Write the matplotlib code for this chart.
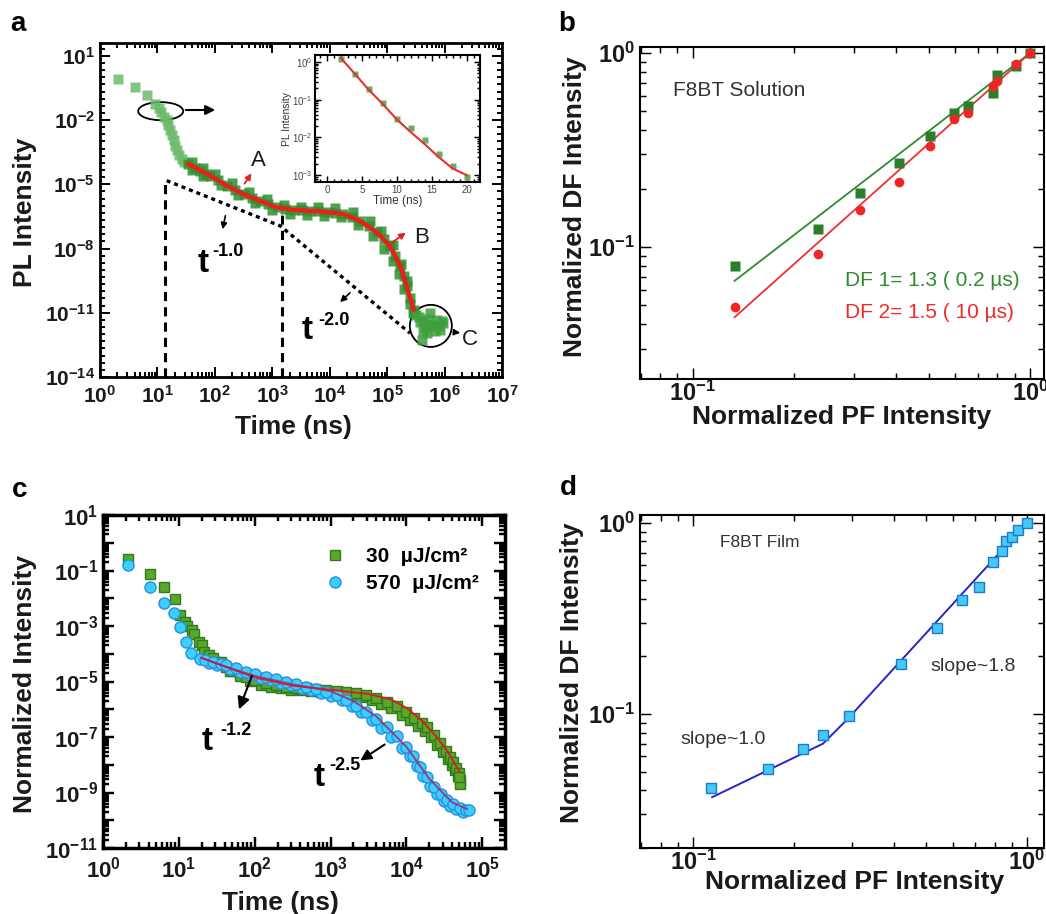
import numpy as np
import matplotlib
matplotlib.use('Agg')
import matplotlib.pyplot as plt
from matplotlib.patches import Ellipse
from matplotlib.ticker import (LogLocator, FixedLocator, FuncFormatter,
                               NullFormatter, MultipleLocator)

plt.rcParams['font.family'] = ['Liberation Sans', 'DejaVu Sans']
plt.rcParams['mathtext.fontset'] = 'custom'
plt.rcParams['mathtext.rm'] = 'Liberation Sans'
plt.rcParams['mathtext.bf'] = 'Liberation Sans:bold'
plt.rcParams['mathtext.it'] = 'Liberation Sans:italic'

# ---------------- data ----------------
# panel a: PL decay, values given as powers of ten (log10 t, log10 I)
a_early_logt = [0.31, 0.61, 0.81, 0.96, 1.02, 1.07, 1.12, 1.16, 1.19, 1.22, 1.25,
                1.28, 1.31, 1.34, 1.38, 1.42, 1.47]
a_early_logI = [-0.06, -0.45, -0.84, -1.23, -1.45, -1.62, -1.85, -2.01, -2.25, -2.48,
                -2.72, -2.95, -3.20, -3.42, -3.62, -3.81, -3.95]
a_band_logt = [1.54, 1.65, 1.75, 1.85, 1.92, 2.05, 2.21, 2.35, 2.50, 2.65, 2.79, 2.93,
               3.08, 3.22, 3.37, 3.51, 3.66, 3.80, 3.95, 4.10, 4.24, 4.38, 4.53, 4.68,
               4.82, 4.94, 5.05, 5.14, 5.23, 5.29, 5.34, 5.40, 5.46]
a_band_logI = [-4.05, -4.22, -4.38, -4.50, -4.60, -4.82, -5.07, -5.27, -5.46, -5.62,
               -5.77, -5.93, -6.08, -6.15, -6.19, -6.22, -6.24, -6.26, -6.29, -6.33,
               -6.39, -6.52, -6.71, -6.95, -7.25, -7.55, -7.88, -8.33, -8.82, -9.30,
               -9.76, -10.30, -10.85]
a_upper_logt = [1.60, 1.80, 2.00, 2.30, 2.60, 2.90, 3.20, 3.50, 3.80, 4.10, 4.40, 4.70,
                4.90, 5.10, 5.25, 5.35]
a_upper_logI = [-3.95, -4.22, -4.50, -4.95, -5.35, -5.68, -5.95, -6.05, -6.07, -6.12,
                -6.30, -6.72, -7.20, -7.85, -8.70, -9.50]
a_lower_logt = [1.60, 1.80, 2.10, 2.40, 2.70, 3.00, 3.30, 3.60, 3.90, 4.20, 4.50, 4.75,
                4.95, 5.10, 5.20, 5.30, 5.40, 5.45]
a_lower_logI = [-4.32, -4.62, -5.05, -5.52, -5.88, -6.20, -6.38, -6.42, -6.46, -6.55,
                -6.90, -7.40, -8.00, -8.60, -9.20, -9.90, -10.60, -11.00]
a_tail_logt = [5.50, 5.55, 5.58, 5.60, 5.62, 5.63, 5.66, 5.69, 5.70, 5.72, 5.75, 5.78,
               5.81, 5.84, 5.87, 5.90, 5.92, 5.95, 5.98]
a_tail_logI = [-11.10, -11.20, -11.45, -12.26, -11.85, -11.40, -11.70, -11.95, -11.55,
               -11.30, -11.00, -11.60, -11.56, -11.85, -11.32, -11.60, -11.79, -11.40,
               -11.48]
a_fit_logt = [1.54, 1.92, 2.21, 2.50, 2.79, 3.08, 3.37, 3.66, 3.95, 4.24, 4.53, 4.82,
              5.05, 5.23, 5.34, 5.46]
a_fit_logI = [-4.05, -4.60, -5.07, -5.46, -5.77, -6.08, -6.19, -6.24, -6.29, -6.39,
              -6.71, -7.25, -7.88, -8.82, -9.76, -10.85]
# power-law guide (t^-1.0 then t^-2.0) and the two dashed drop lines
guide_t = [14.5, 1370, 2.5e5]
guide_I = [1.48e-5, 1.15e-7, 1.12e-12]
drop_t = [13.5, 1460]
drop_top = [1.48e-5, 4.1e-7]

# inset of panel a (linear time, ns)
ins_t = [2, 4, 6, 8, 10, 12, 14, 16, 18, 20]
ins_I = [1.16, 0.47, 0.19, 0.083, 0.030, 0.018, 0.0087, 0.0037, 0.0018, 0.00089]
ins_fit_I = [1.26, 0.48, 0.18, 0.076, 0.030, 0.0138, 0.0066, 0.0030, 0.0015, 0.0010]

# panel b: F8BT solution
b_pf = [0.133, 0.235, 0.313, 0.41, 0.505, 0.595, 0.655, 0.776, 0.80, 0.91, 1.0]
b_df1 = [0.080, 0.124, 0.19, 0.271, 0.373, 0.49, 0.533, 0.62, 0.77, 0.86, 1.0]
b_df2 = [0.049, 0.092, 0.155, 0.217, 0.332, 0.457, 0.49, 0.68, 0.72, 0.88, 1.0]
b_fit_pf = [0.133, 1.0]
b_fit_df1 = [0.067, 1.0]
b_fit_df2 = [0.0435, 1.0]

# panel c: two fluences, powers of ten
c_low_logt = [0.33, 0.625, 0.80, 0.947, 1.02, 1.08, 1.11, 1.17, 1.20, 1.26, 1.30, 1.33,
              1.40, 1.45, 1.55, 1.62, 1.72, 1.88, 2.00, 2.15, 2.28, 2.41, 2.55, 2.68,
              2.80, 2.94, 3.08, 3.21, 3.34, 3.47, 3.60, 3.74, 3.87, 4.00, 4.10, 4.20,
              4.27, 4.36, 4.44, 4.52, 4.58, 4.62, 4.66, 4.69, 4.71, 4.71, 4.70]
c_low_logI = [-0.60, -1.13, -1.58, -2.01, -2.60, -2.85, -3.00, -3.15, -3.30, -3.57,
              -3.70, -3.93, -4.05, -4.15, -4.30, -4.47, -4.62, -4.83, -4.95, -5.07,
              -5.13, -5.19, -5.22, -5.25, -5.28, -5.31, -5.34, -5.37, -5.42, -5.49,
              -5.58, -5.73, -5.88, -6.09, -6.30, -6.50, -6.63, -6.92, -7.23, -7.50,
              -7.71, -7.90, -8.13, -8.30, -8.55, -8.70, -8.45]
c_low_edge_logt = [1.50, 1.67, 1.80, 1.94, 2.08, 2.22, 2.35, 2.48, 2.62, 2.74, 2.87,
                   3.01, 3.15, 3.28, 3.40, 3.54, 3.67, 3.80, 3.94, 4.05, 4.15, 4.24,
                   4.32, 4.40, 4.48, 4.55, 4.60, 4.64, 4.68]
c_low_edge_logI = [-4.30, -4.62, -4.80, -4.98, -5.12, -5.20, -5.25, -5.30, -5.32, -5.35,
                   -5.38, -5.40, -5.44, -5.48, -5.55, -5.66, -5.80, -5.97, -6.20, -6.40,
                   -6.60, -6.80, -7.00, -7.30, -7.55, -7.80, -8.00, -8.20, -8.40]
c_high_logt = [0.33, 0.625, 0.80, 0.93, 1.02, 1.09, 1.155, 1.28, 1.35, 1.45, 1.55, 1.62,
               1.75, 1.88, 2.00, 2.15, 2.28, 2.41, 2.55, 2.68, 2.81, 2.94, 3.08, 3.21,
               3.34, 3.47, 3.60, 3.74, 3.87, 4.00, 4.09, 4.18, 4.27, 4.36, 4.45, 4.53,
               4.62, 4.71, 4.78, 4.82]
c_high_logI = [-0.80, -1.61, -2.16, -2.54, -3.03, -3.57, -3.96, -4.20, -4.23, -4.30,
               -4.36, -4.41, -4.53, -4.65, -4.74, -4.83, -4.92, -5.00, -5.10, -5.19,
               -5.28, -5.37, -5.50, -5.67, -5.87, -6.09, -6.35, -6.63, -6.98, -7.35,
               -7.70, -8.07, -8.45, -8.79, -9.05, -9.27, -9.42, -9.57, -9.62, -9.63]
c_high_edge_logt = [1.40, 1.50, 1.68, 1.81, 1.94, 2.08, 2.22, 2.35, 2.48, 2.62, 2.74,
                    2.88, 3.01, 3.15, 3.28, 3.40, 3.54, 3.67, 3.80, 3.94, 4.05, 4.14,
                    4.22, 4.31, 4.40, 4.49, 4.58, 4.66, 4.75]
c_high_edge_logI = [-4.35, -4.42, -4.55, -4.65, -4.77, -4.86, -4.95, -5.04, -5.13, -5.22,
                    -5.31, -5.41, -5.52, -5.68, -5.88, -6.10, -6.38, -6.68, -7.00, -7.38,
                    -7.70, -8.05, -8.40, -8.75, -9.05, -9.30, -9.48, -9.60, -9.70]
c_fit_low_logt = [1.30, 1.60, 2.00, 2.50, 3.00, 3.50, 3.80, 4.00, 4.20, 4.40, 4.55, 4.70]
c_fit_low_logI = [-4.15, -4.45, -4.85, -5.15, -5.30, -5.45, -5.65, -5.95, -6.40, -7.00,
                  -7.55, -8.25]
c_fit_high_logt = [1.30, 1.60, 2.00, 2.50, 3.00, 3.30, 3.60, 4.00, 4.30, 4.60, 4.80]
c_fit_high_logI = [-4.15, -4.45, -4.80, -5.10, -5.35, -5.70, -6.25, -7.35, -8.50, -9.35,
                   -9.60]
c_labels = ['30  µJ/cm²', '570  µJ/cm²']

# panel d: F8BT film
d_pf = [0.113, 0.168, 0.214, 0.245, 0.293, 0.42, 0.537, 0.64, 0.717, 0.79, 0.84, 0.865,
        0.90, 0.94, 1.0]
d_df = [0.041, 0.0515, 0.0656, 0.0776, 0.0977, 0.183, 0.282, 0.395, 0.462, 0.625, 0.71,
        0.805, 0.845, 0.92, 1.0]
d_fit_pf = [0.114, 0.245, 0.29, 1.0]
d_fit_df = [0.0367, 0.070, 0.094, 1.0]

# ---------------- figure ----------------
W, H = 1046, 914
fig = plt.figure(figsize=(W / 100, H / 100), dpi=100)


def fx(x, y):
    # figure pixel (from top-left) -> figure fraction
    return (x / W, 1 - y / H)


def box(l, t, r, b):
    return [l / W, 1 - b / H, (r - l) / W, (b - t) / H]


def p10(v):
    return 10 ** np.asarray(v, dtype=float)


def pow10_bold(v, pos):
    return r'$\mathbf{10^{%d}}$' % int(round(np.log10(v)))


def style(ax, lw, size, length=7, xpad=3.5):
    for s in ax.spines.values():
        s.set_linewidth(lw)
    ax.tick_params(which='both', direction='in', top=True, right=True,
                   width=lw * 0.7, labelsize=size, labelcolor='#1a1a1a')
    ax.tick_params(which='major', length=length)
    ax.tick_params(which='minor', length=length * 0.55)
    ax.tick_params(axis='x', which='major', pad=xpad)


label_kw = dict(fontsize=19, fontweight='bold', color='#1a1a1a', ha='center', va='center')

# ---- panel a ----
ax_a = fig.add_axes(box(100, 43, 502, 377))
ax_a.set_xscale('log')
ax_a.set_yscale('log')
sq_a = dict(marker='s', ms=7, ls='none', mec='none', color='#2f8f2f', alpha=0.85)
ax_a.plot(p10(a_early_logt), p10(a_early_logI), **dict(sq_a, color='#6cbb6c'))
ax_a.plot(p10(a_upper_logt), p10(a_upper_logI), **sq_a)
ax_a.plot(p10(a_lower_logt), p10(a_lower_logI), **sq_a)
ax_a.plot(p10(a_band_logt), p10(a_band_logI), **sq_a)
ax_a.plot(p10(a_tail_logt), p10(a_tail_logI), **dict(sq_a, color='#3f9f3f'))
ax_a.plot(p10(a_fit_logt), p10(a_fit_logI), color='#e8201c', lw=3.2)
ax_a.plot(guide_t, guide_I, color='k', ls=(0, (1.2, 1.2)), lw=2.4)
ax_a.vlines(drop_t, 1e-14, drop_top, colors='k', linestyles=(0, (3, 2)), lw=2.2)
ax_a.set_xlim(1, 1e7)
ax_a.set_ylim(1e-14, 10 ** 1.6)
ax_a.xaxis.set_major_locator(LogLocator(base=10, numticks=20))
ax_a.xaxis.set_minor_locator(LogLocator(base=10, subs=np.arange(2, 10), numticks=100))
ax_a.yaxis.set_major_locator(FixedLocator(10.0 ** np.arange(-14, 2, 3)))
ax_a.yaxis.set_minor_locator(LogLocator(base=10, subs=(1.0, 2.15, 4.64), numticks=100))
ax_a.xaxis.set_major_formatter(FuncFormatter(pow10_bold))
ax_a.yaxis.set_major_formatter(FuncFormatter(pow10_bold))
ax_a.xaxis.set_minor_formatter(NullFormatter())
ax_a.yaxis.set_minor_formatter(NullFormatter())
style(ax_a, 2.0, 15, xpad=6)

# annotations in panel a
ax_a.add_patch(Ellipse((0.151, 0.796), 0.112, 0.054, transform=ax_a.transAxes,
                       fill=False, ec='k', lw=1.3))
ax_a.add_patch(Ellipse((0.823, 0.153), 0.1045, 0.126, transform=ax_a.transAxes,
                       fill=False, ec='k', lw=1.3))
arr_k = dict(arrowstyle='-|>', color='k', lw=1.5, mutation_scale=14)
arr_r = dict(arrowstyle='-|>', color='#e8201c', lw=1.3, mutation_scale=9)
fig_ann = dict(xycoords='figure fraction', textcoords='figure fraction')
ax_a.annotate('', xy=fx(218, 110), xytext=fx(183, 110), arrowprops=arr_k, **fig_ann)
ax_a.annotate('', xy=fx(253, 171), xytext=fx(243, 186), arrowprops=arr_r, **fig_ann)
ax_a.annotate('', xy=fx(408, 231), xytext=fx(390, 244), arrowprops=arr_r, **fig_ann)
ax_a.annotate('', xy=fx(463, 333), xytext=fx(451, 332),
              arrowprops=dict(arr_k, mutation_scale=9, lw=1.2), **fig_ann)
ax_a.annotate('', xy=fx(222, 232), xytext=fx(226, 213),
              arrowprops=dict(arr_k, mutation_scale=9, lw=1.2), **fig_ann)
ax_a.annotate('', xy=fx(338, 304), xytext=fx(352, 291),
              arrowprops=dict(arr_k, mutation_scale=9, lw=1.2), **fig_ann)
fig.text(*fx(258, 161), 'A', fontsize=16, ha='center', va='center', color='#1a1a1a')
fig.text(*fx(422, 237), 'B', fontsize=16, ha='center', va='center', color='#1a1a1a')
fig.text(*fx(470, 340), 'C', fontsize=16, ha='center', va='center', color='#1a1a1a')
fig.text(*fx(198, 272), 't', fontsize=24, fontweight='bold', ha='left', va='baseline')
fig.text(*fx(212, 256), '-1.0', fontsize=13, fontweight='bold', ha='left', va='baseline')
fig.text(*fx(302, 339), 't', fontsize=24, fontweight='bold', ha='left', va='baseline')
fig.text(*fx(318, 325), '-2.0', fontsize=13, fontweight='bold', ha='left', va='baseline')
fig.text(*fx(25, 212), 'PL Intensity', rotation=90, **label_kw)
fig.text(*fx(293, 427), 'Time (ns)', **label_kw)

# inset
ax_in = fig.add_axes(box(315, 55, 480, 182))
ax_in.set_yscale('log')
ax_in.plot(ins_t, ins_I, marker='s', ms=4.5, ls='none', mec='none', color='#68ad68')
ax_in.plot(ins_t, ins_fit_I, color='#e8302a', lw=1.5)
ax_in.set_xlim(-1.7, 21.9)
ax_in.set_ylim(10 ** -3.18, 10 ** 0.18)
ax_in.xaxis.set_major_locator(MultipleLocator(5))
ax_in.xaxis.set_minor_locator(MultipleLocator(1))
ax_in.yaxis.set_major_locator(LogLocator(base=10, numticks=10))
ax_in.yaxis.set_minor_locator(LogLocator(base=10, subs=np.arange(2, 10), numticks=100))
ax_in.yaxis.set_major_formatter(FuncFormatter(lambda v, p: r'$10^{%d}$' % int(round(np.log10(v)))))
ax_in.yaxis.set_minor_formatter(NullFormatter())
style(ax_in, 1.5, 7, length=4, xpad=2)
ax_in.tick_params(labelcolor='#444444')
ax_in.tick_params(axis='y', pad=2)
ax_in.set_xlabel('Time (ns)', fontsize=8.5, labelpad=0, color='#333333')
ax_in.set_ylabel('PL Intensity', fontsize=7.5, labelpad=0, color='#333333')

# ---- panel b ----
ax_b = fig.add_axes(box(640, 47, 1044, 379))
ax_b.set_xscale('log')
ax_b.set_yscale('log')
ax_b.plot(b_fit_pf, b_fit_df1, color='#2e8b2e', lw=1.3)
ax_b.plot(b_fit_pf, b_fit_df2, color='#f03030', lw=1.3)
ax_b.plot(b_pf, b_df1, marker='s', ms=6.5, ls='none', mec='none', color='#2a802a')
ax_b.plot(b_pf, b_df2, marker='o', ms=7, ls='none', mec='none', color='#f02626')
ax_b.set_xlim(0.0697, 1.10)
ax_b.set_ylim(0.0209, 1.074)
for axis in (ax_b.xaxis, ax_b.yaxis):
    axis.set_major_locator(LogLocator(base=10, numticks=10))
    axis.set_minor_locator(LogLocator(base=10, subs=np.arange(2, 10), numticks=100))
    axis.set_major_formatter(FuncFormatter(pow10_bold))
    axis.set_minor_formatter(NullFormatter())
style(ax_b, 1.5, 17, length=8, xpad=1)
ax_b.text(0.082, 0.87, 'F8BT Solution', transform=ax_b.transAxes, fontsize=15,
          color='#333333', va='center')
ax_b.text(0.507, 0.298, 'DF 1= 1.3 ( 0.2 µs)', transform=ax_b.transAxes, fontsize=15,
          color='#2e8b2e', va='center')
ax_b.text(0.507, 0.199, 'DF 2= 1.5 ( 10 µs)', transform=ax_b.transAxes, fontsize=15,
          color='#f02a2a', va='center')
fig.text(*fx(575, 207), 'Normalized DF Intensity', rotation=90, **label_kw)
fig.text(*fx(842, 417), 'Normalized PF Intensity', **label_kw)

# ---- panel c ----
ax_c = fig.add_axes(box(103, 515, 505, 848))
ax_c.set_xscale('log')
ax_c.set_yscale('log')
sq_c = dict(marker='s', ms=7.5, ls='none', mfc='#5ca62c', mec='#2d7d1c', mew=1.0)
ci_c = dict(marker='o', ms=8, ls='none', mfc='#38d0ff', mec='#2a8fe0', mew=1.0)
ax_c.plot(p10(c_low_edge_logt), p10(c_low_edge_logI), **sq_c)
ax_c.plot(p10(c_low_logt), p10(c_low_logI), label=c_labels[0], **sq_c)
ax_c.plot(p10(c_high_edge_logt), p10(c_high_edge_logI), **ci_c)
ax_c.plot(p10(c_high_logt), p10(c_high_logI), label=c_labels[1], **ci_c)
ax_c.plot(p10(c_fit_low_logt), p10(c_fit_low_logI), color='#d42020', lw=1.4)
ax_c.plot(p10(c_fit_high_logt), p10(c_fit_high_logI), color='#b02060', lw=1.4, alpha=0.8)
ax_c.set_xlim(1, 10 ** 5.3)
ax_c.set_ylim(1e-11, 1e1)
ax_c.xaxis.set_major_locator(LogLocator(base=10, numticks=20))
ax_c.xaxis.set_minor_locator(LogLocator(base=10, subs=np.arange(2, 10), numticks=100))
ax_c.yaxis.set_major_locator(LogLocator(base=10, numticks=30))
ax_c.yaxis.set_minor_locator(LogLocator(base=10, subs=np.arange(2, 10), numticks=100))
ax_c.xaxis.set_major_formatter(FuncFormatter(pow10_bold))
ax_c.yaxis.set_major_formatter(FuncFormatter(
    lambda v, p: pow10_bold(v, p) if int(round(np.log10(v))) % 2 else ''))
ax_c.xaxis.set_minor_formatter(NullFormatter())
ax_c.yaxis.set_minor_formatter(NullFormatter())
style(ax_c, 2.5, 16, length=8, xpad=6)
ax_c.legend(loc='upper left', bbox_to_anchor=(0.52, 0.935), frameon=False,
            prop={'weight': 'bold', 'size': 15}, handletextpad=0.9, labelspacing=0.4,
            borderpad=0, handlelength=1.2, markerscale=1.0)
ax_c.annotate('', xy=fx(238, 712), xytext=fx(253, 673),
              arrowprops=dict(arr_k, mutation_scale=18), **fig_ann)
ax_c.annotate('', xy=fx(358, 762), xytext=fx(387, 743),
              arrowprops=dict(arr_k, mutation_scale=16), **fig_ann)
fig.text(*fx(202, 750), 't', fontsize=24, fontweight='bold', ha='left', va='baseline')
fig.text(*fx(220, 735), '-1.2', fontsize=13, fontweight='bold', ha='left', va='baseline')
fig.text(*fx(314, 786), 't', fontsize=24, fontweight='bold', ha='left', va='baseline')
fig.text(*fx(329, 770), '-2.5', fontsize=13, fontweight='bold', ha='left', va='baseline')
fig.text(*fx(25, 684), 'Normalized Intensity', rotation=90, **label_kw)
fig.text(*fx(280, 903), 'Time (ns)', **label_kw)

# ---- panel d ----
ax_d = fig.add_axes(box(640, 515, 1044, 848))
ax_d.set_xscale('log')
ax_d.set_yscale('log')
ax_d.plot(d_fit_pf, d_fit_df, color='#2525c8', lw=1.4)
ax_d.plot(d_pf, d_df, marker='s', ms=7, ls='none', mfc='#45c8f5', mec='#1e78d2', mew=1.0)
ax_d.set_xlim(0.0693, 1.125)
ax_d.set_ylim(0.0199, 1.10)
for axis in (ax_d.xaxis, ax_d.yaxis):
    axis.set_major_locator(LogLocator(base=10, numticks=10))
    axis.set_minor_locator(LogLocator(base=10, subs=np.arange(2, 10), numticks=100))
    axis.set_major_formatter(FuncFormatter(pow10_bold))
    axis.set_minor_formatter(NullFormatter())
style(ax_d, 1.5, 17, length=8, xpad=1)
ax_d.text(0.198, 0.916, 'F8BT Film', transform=ax_d.transAxes, fontsize=12.5,
          color='#333333', va='center')
ax_d.text(0.099, 0.327, 'slope~1.0', transform=ax_d.transAxes, fontsize=14,
          color='#333333', va='center')
ax_d.text(0.718, 0.544, 'slope~1.8', transform=ax_d.transAxes, fontsize=14,
          color='#333333', va='center')
fig.text(*fx(572, 673), 'Normalized DF Intensity', rotation=90, **label_kw)
fig.text(*fx(855, 882), 'Normalized PF Intensity', **label_kw)

# panel letters
for letter, (px, py) in zip('abcd', [(18, 24), (567, 24), (20, 490), (568, 488)]):
    fig.text(*fx(px, py), letter, fontsize=20, fontweight='bold', ha='center', va='center')

fig.savefig('out.png', dpi=100)
